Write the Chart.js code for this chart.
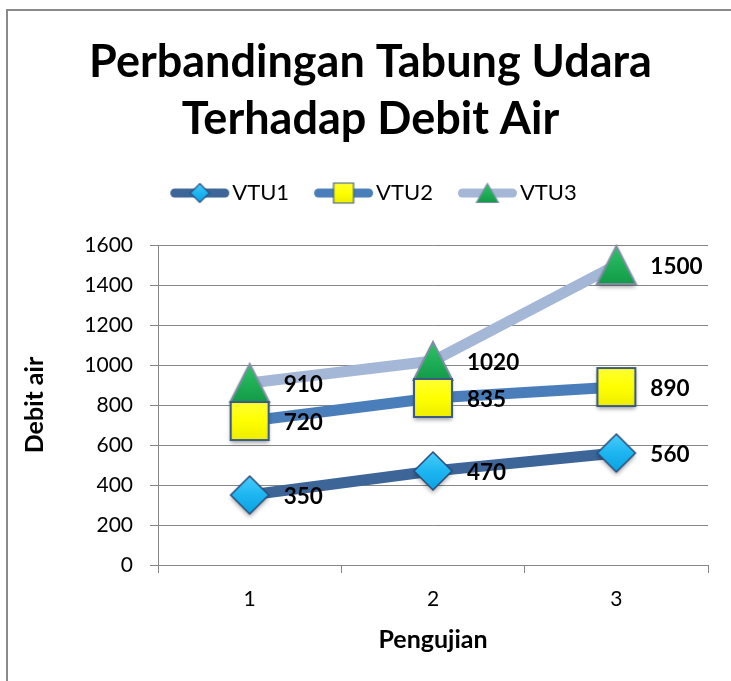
<!DOCTYPE html>
<html>
<head>
<meta charset="utf-8">
<script src="https://cdn.jsdelivr.net/npm/chart.js@4"></script>
<style>
html,body{margin:0;padding:0;background:#fff;}
#c{display:block;}
</style>
</head>
<body>
<canvas id="c" width="731" height="681"></canvas>
<script>
const categories = ['1', '2', '3'];
const seriesNames = ['VTU1', 'VTU2', 'VTU3'];
const vtu1 = [350, 470, 560];
const vtu2 = [720, 835, 890];
const vtu3 = [910, 1020, 1500];
const titleLines = ['Perbandingan Tabung Udara ', 'Terhadap Debit Air '];
const xTitle = 'Pengujian';
const yTitle = 'Debit air';
const yMin = 0, yMax = 1600, yStep = 200;

const lineColors = ['#3D6598', '#4A7EBB', '#A5B7D6'];
const FONT = 'Lato';

function mkCanvas(w, h) { const c = document.createElement('canvas'); c.width = w; c.height = h; return c; }

function drawDiamond(ctx, cx, cy, r) {
  ctx.beginPath();
  ctx.moveTo(cx, cy - r); ctx.lineTo(cx + r, cy); ctx.lineTo(cx, cy + r); ctx.lineTo(cx - r, cy); ctx.closePath();
  const g = ctx.createLinearGradient(0, cy - r, 0, cy + r);
  g.addColorStop(0, '#48CDFB'); g.addColorStop(0.5, '#1DB6F1'); g.addColorStop(1, '#0AA2E2');
  ctx.fillStyle = g; ctx.fill();
  ctx.shadowColor = 'transparent';
  ctx.lineWidth = Math.max(1.2, r / 12); ctx.strokeStyle = '#2C4E7D'; ctx.stroke();
}
function drawSquare(ctx, cx, cy, h) {
  ctx.beginPath(); ctx.rect(cx - h, cy - h, 2 * h, 2 * h);
  const g = ctx.createLinearGradient(0, cy - h, 0, cy + h);
  g.addColorStop(0, '#FFFF33'); g.addColorStop(0.5, '#FFFF00'); g.addColorStop(1, '#EDED00');
  ctx.fillStyle = g; ctx.fill();
  ctx.shadowColor = 'transparent';
  ctx.lineWidth = Math.max(1.2, h / 9); ctx.strokeStyle = '#3B5A86'; ctx.stroke();
}
function drawTriangle(ctx, cx, cy, w, h) {
  ctx.beginPath();
  ctx.moveTo(cx, cy - h / 2); ctx.lineTo(cx + w / 2, cy + h / 2); ctx.lineTo(cx - w / 2, cy + h / 2); ctx.closePath();
  const g = ctx.createLinearGradient(0, cy - h / 2, 0, cy + h / 2);
  g.addColorStop(0, '#2CC466'); g.addColorStop(1, '#139A48');
  ctx.fillStyle = g; ctx.fill();
  ctx.shadowColor = 'transparent';
  ctx.lineWidth = Math.max(1.2, w / 20); ctx.strokeStyle = '#7E8DA5'; ctx.lineJoin = 'miter'; ctx.stroke();
}
function withShadow(ctx, blur, off) {
  ctx.shadowColor = 'rgba(0,0,0,0.35)'; ctx.shadowBlur = blur; ctx.shadowOffsetX = 0; ctx.shadowOffsetY = off;
}
function markerImage(i, big) {
  const S = big ? 56 : 28;
  const c = mkCanvas(S, S); const ctx = c.getContext('2d');
  const m = S / 2;
  if (big) withShadow(ctx, 4, 3);
  if (i === 0) drawDiamond(ctx, m, m, big ? 19 : 9.5);
  else if (i === 1) drawSquare(ctx, m, m, big ? 19 : 10);
  else drawTriangle(ctx, m, m, big ? 39 : 22, big ? 38 : 19);
  return c;
}
// legend sample: line 59px long, marker centred on it; content placed right of image centre
function legendImage(i) {
  const W = 70, H = 26; const c = mkCanvas(W, H); const ctx = c.getContext('2d');
  ctx.strokeStyle = lineColors[i]; ctx.lineWidth = 9; ctx.lineCap = 'round';
  ctx.beginPath(); ctx.moveTo(11.5, H / 2); ctx.lineTo(61.5, H / 2); ctx.stroke();
  const mk = markerImage(i, false);
  ctx.drawImage(mk, 36.5 - mk.width / 2, H / 2 - mk.height / 2);
  return c;
}
const pointImgs = [0, 1, 2].map(i => markerImage(i, true));
const legendImgs = [0, 1, 2].map(i => legendImage(i));

const frame = {
  id: 'frame',
  beforeDraw(chart) {
    const ctx = chart.ctx; ctx.save();
    ctx.fillStyle = '#fff'; ctx.fillRect(0, 0, chart.width, chart.height);
    ctx.strokeStyle = '#8A8A8A'; ctx.lineWidth = 2;
    ctx.strokeRect(7, 10, chart.width + 50, chart.height + 50);
    ctx.restore();
  }
};
const valueLabels = {
  id: 'valueLabels',
  afterDatasetsDraw(chart) {
    const ctx = chart.ctx; ctx.save();
    ctx.font = 'bold 22.5px ' + FONT; ctx.fillStyle = '#000';
    ctx.textAlign = 'left'; ctx.textBaseline = 'middle';
    chart.data.datasets.forEach((ds, di) => {
      const meta = chart.getDatasetMeta(di);
      meta.data.forEach((pt, j) => { ctx.fillText(String(ds.data[j]), pt.x + 34, pt.y + 2); });
    });
    ctx.restore();
  }
};

const allSeries = [vtu1, vtu2, vtu3];
const datasets = allSeries.map((d, i) => ({
  label: seriesNames[i],
  data: d,
  borderColor: lineColors[i],
  backgroundColor: lineColors[i],
  borderWidth: 11,
  borderCapStyle: 'round',
  borderJoinStyle: 'round',
  tension: 0,
  fill: false,
  pointStyle: pointImgs[i],
  pointRadius: 2,
  pointHoverRadius: 2,
  pointBorderWidth: 0,
  clip: false
}));

new Chart(document.getElementById('c'), {
  type: 'line',
  data: { labels: categories, datasets },
  options: {
    responsive: false,
    animation: false,
    devicePixelRatio: 1,
    layout: { padding: { left: 44, right: 23, top: 0, bottom: 0 } },
    plugins: {
      title: {
        display: true, text: titleLines, color: '#000',
        font: { family: FONT, size: 45, weight: 'bold', lineHeight: 1.2667 },
        padding: { top: 34, bottom: 4 }
      },
      subtitle: {
        display: true, text: '', weight: 500,
        font: { family: FONT, size: 10, lineHeight: 1 },
        padding: { top: 21, bottom: 0 }
      },
      legend: {
        display: true, position: 'top',
        labels: {
          usePointStyle: true, pointStyleWidth: 46, padding: 30, color: '#000',
          font: { family: FONT, size: 22 },
          generateLabels(chart) {
            return chart.data.datasets.map((ds, i) => ({
              text: ds.label, pointStyle: legendImgs[i], fillStyle: ds.borderColor,
              strokeStyle: ds.borderColor, lineWidth: 0, hidden: false, datasetIndex: i, fontColor: '#000'
            }));
          }
        }
      },
      tooltip: { enabled: false }
    },
    scales: {
      x: {
        type: 'category',
        offset: true,
        grid: { offset: true, drawOnChartArea: false, drawTicks: true, tickLength: 8, color: '#868686' },
        border: { display: true, color: '#868686', width: 1 },
        ticks: { color: '#000', font: { family: FONT, size: 21 }, padding: 14 },
        title: { display: true, text: xTitle, color: '#000', font: { family: FONT, size: 25, weight: 'bold' }, padding: { top: 0, bottom: 26 } },
        afterFit(scale) { scale.height = 116; }
      },
      y: {
        min: yMin, max: yMax,
        grid: { color: '#868686', tickLength: 8, drawTicks: true },
        border: { display: true, color: '#868686', width: 1 },
        ticks: { stepSize: yStep, color: '#000', font: { family: FONT, size: 21 }, padding: 17,
          callback: (v) => String(v) },
        title: { display: true, text: yTitle, color: '#000', font: { family: FONT, size: 25, weight: 'bold' }, padding: { top: -24, bottom: 0 } },
        afterFit(scale) { scale.width = 114; }
      }
    }
  },
  plugins: [frame, valueLabels]
});
</script>
</body>
</html>
